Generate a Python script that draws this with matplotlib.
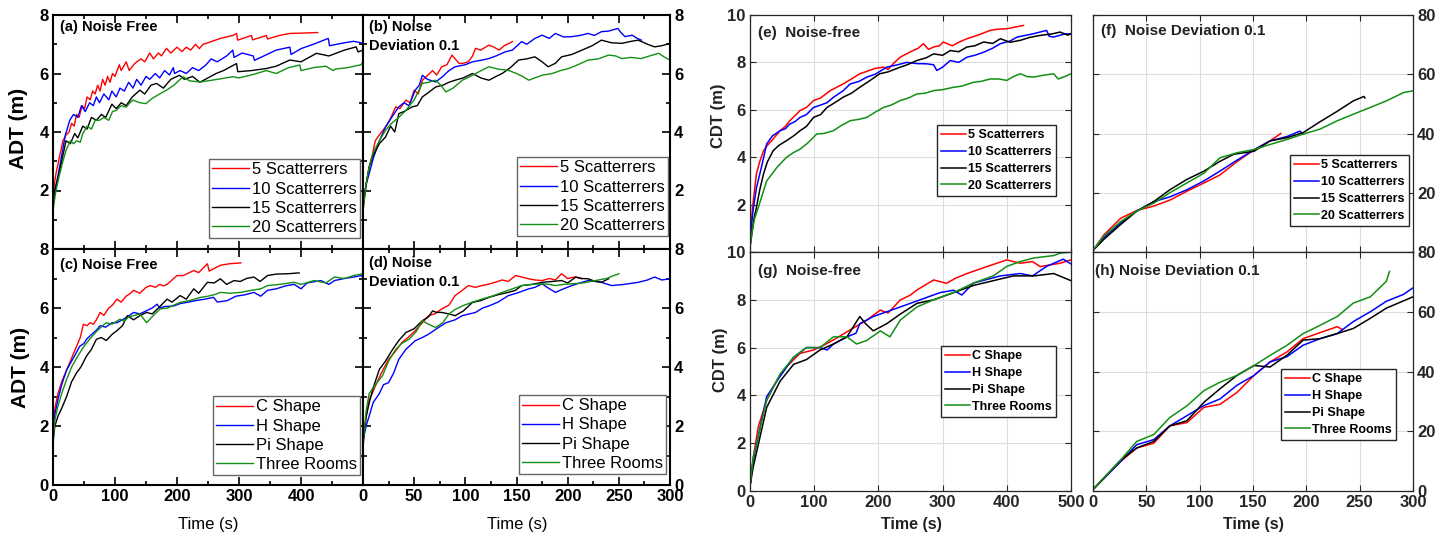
import numpy as np
import matplotlib.pyplot as plt
from matplotlib.ticker import MultipleLocator

plt.rcParams['font.family'] = ['Liberation Sans', 'DejaVu Sans']

# ---------------- Datos ----------------
# (a) ADT, sin ruido, numero de dispersores
a_t5 = [0, 2, 5, 8, 12, 16, 21, 26, 30, 34, 38, 42, 47, 51, 55, 60, 64, 68, 72, 76, 80, 84, 88, 92, 96, 100, 107, 110, 118, 123, 130, 135, 142, 148, 156, 162, 170, 175, 183, 190, 200, 208, 215, 222, 230, 236, 242, 250, 270, 290, 296, 298, 320, 322, 344, 346, 365, 382, 400, 427]
a_y5 = [1.3, 2.2, 2.6, 2.9, 3.3, 3.7, 3.9, 4.0, 4.3, 4.2, 4.6, 4.5, 4.9, 4.8, 5.2, 5.1, 5.4, 5.3, 5.6, 5.4, 5.8, 5.6, 5.9, 5.7, 6.0, 5.9, 6.3, 6.1, 6.4, 6.1, 6.3, 6.4, 6.5, 6.4, 6.7, 6.5, 6.7, 6.6, 6.86, 6.7, 6.9, 6.75, 6.9, 6.8, 7.0, 6.85, 7.0, 7.05, 7.2, 7.3, 7.37, 7.14, 7.3, 7.15, 7.3, 7.18, 7.3, 7.37, 7.38, 7.4]
a_t10 = [0, 3, 8, 14, 20, 27, 33, 40, 46, 52, 59, 65, 70, 75, 82, 90, 95, 102, 108, 115, 122, 129, 135, 142, 150, 156, 165, 172, 180, 188, 194, 196, 205, 215, 225, 235, 247, 255, 265, 280, 290, 292, 305, 323, 325, 345, 360, 382, 384, 400, 420, 444, 446, 470, 485, 497, 500]
a_y10 = [1.5, 2.0, 2.5, 3.2, 3.9, 4.4, 4.6, 4.5, 4.9, 4.7, 5.0, 4.9, 5.2, 5.0, 5.3, 5.1, 5.4, 5.2, 5.5, 5.4, 5.7, 5.5, 5.8, 5.6, 5.9, 5.8, 6.0, 5.85, 6.1, 5.95, 6.2, 6.0, 6.1, 6.0, 6.2, 6.1, 6.3, 6.5, 6.4, 6.6, 6.8, 6.55, 6.7, 6.6, 6.45, 6.65, 6.8, 6.9, 6.65, 6.85, 7.0, 7.2, 6.95, 7.05, 7.1, 7.05, 6.97]
a_t15 = [0, 4, 10, 16, 21, 28, 35, 40, 48, 55, 62, 70, 78, 85, 95, 102, 110, 118, 128, 140, 148, 158, 167, 178, 190, 204, 212, 225, 237, 250, 263, 275, 296, 298, 320, 344, 360, 382, 400, 425, 445, 470, 489, 492, 500]
a_y15 = [1.5, 2.1, 2.6, 3.2, 3.7, 3.6, 3.95, 3.8, 4.2, 4.1, 4.5, 4.4, 4.6, 4.5, 4.95, 4.8, 5.0, 4.9, 5.2, 5.43, 5.3, 5.6, 5.66, 5.5, 5.8, 5.94, 5.8, 5.9, 5.7, 5.85, 6.0, 6.1, 6.34, 6.06, 6.1, 6.17, 6.25, 6.46, 6.4, 6.69, 6.6, 6.8, 6.91, 6.74, 6.8]
a_t20 = [0, 4, 10, 16, 21, 28, 33, 38, 44, 48, 55, 62, 68, 75, 82, 90, 96, 102, 110, 118, 124, 129, 140, 150, 160, 172, 183, 195, 205, 210, 220, 237, 250, 265, 290, 300, 320, 344, 360, 380, 398, 400, 420, 440, 452, 455, 475, 497, 500]
a_y20 = [1.3, 1.9, 2.5, 3.0, 3.37, 3.7, 3.6, 3.7, 3.65, 3.94, 4.2, 4.1, 4.4, 4.4, 4.5, 4.4, 4.7, 4.74, 4.9, 4.85, 5.0, 5.09, 5.0, 4.97, 5.15, 5.3, 5.43, 5.6, 5.8, 5.89, 5.75, 5.71, 5.75, 5.8, 5.89, 5.85, 5.95, 6.1, 6.0, 6.2, 6.29, 6.1, 6.2, 6.25, 6.1, 6.15, 6.2, 6.3, 6.4]

# (b) ADT, ruido 0.1, numero de dispersores
b_t5 = [0, 3, 6, 9, 12, 16, 22, 26, 32, 36, 42, 46, 50, 54, 58, 62, 68, 72, 77, 82, 87, 90, 94, 98, 103, 107, 110, 115, 123, 128, 133, 138, 146]
b_y5 = [1.3, 2.2, 2.8, 3.2, 3.7, 3.9, 4.17, 4.4, 4.86, 4.8, 5.09, 5.0, 5.43, 5.3, 5.77, 5.9, 6.1, 5.95, 6.23, 6.3, 6.63, 6.5, 6.34, 6.35, 6.4, 6.6, 6.86, 6.8, 6.97, 6.9, 6.8, 6.95, 7.09]
b_t10 = [0, 3, 6, 10, 16, 22, 28, 35, 40, 45, 51, 55, 58, 63, 71, 78, 84, 90, 100, 107, 115, 123, 130, 139, 146, 155, 160, 168, 175, 182, 188, 196, 204, 212, 220, 226, 233, 240, 249, 252, 256, 263, 268, 272]
b_y10 = [1.5, 2.2, 2.57, 3.1, 3.7, 4.17, 4.5, 4.86, 5.0, 4.9, 5.43, 5.6, 5.94, 5.8, 5.71, 5.9, 6.1, 6.23, 6.3, 6.4, 6.45, 6.51, 6.6, 6.74, 6.8, 7.09, 7.0, 7.2, 7.31, 7.2, 7.37, 7.25, 7.26, 7.3, 7.37, 7.3, 7.43, 7.45, 7.54, 7.4, 7.26, 7.31, 7.2, 7.14]
b_t15 = [0, 3, 6, 10, 16, 22, 27, 31, 35, 40, 48, 53, 58, 64, 71, 78, 84, 90, 98, 107, 115, 123, 130, 136, 144, 152, 160, 168, 175, 181, 188, 194, 204, 214, 224, 233, 243, 253, 262, 269, 278, 285, 292, 300]
b_y15 = [1.5, 2.2, 2.8, 3.2, 3.6, 3.83, 4.2, 4.0, 4.63, 4.7, 4.86, 4.9, 5.2, 5.35, 5.54, 5.6, 5.7, 5.77, 5.85, 6.0, 5.85, 5.77, 5.9, 6.0, 6.2, 6.46, 6.5, 6.57, 6.4, 6.23, 6.35, 6.57, 6.65, 6.8, 6.95, 7.14, 7.05, 7.03, 7.1, 7.14, 7.0, 6.91, 6.95, 7.03]
b_t20 = [0, 3, 6, 10, 16, 22, 28, 35, 42, 50, 58, 64, 71, 76, 81, 88, 97, 105, 116, 123, 132, 142, 150, 156, 162, 168, 175, 185, 193, 201, 210, 220, 230, 240, 247, 253, 262, 272, 280, 289, 295, 300]
b_y20 = [1.3, 2.2, 2.8, 3.3, 3.7, 4.06, 4.3, 4.5, 4.74, 5.1, 5.66, 5.7, 5.77, 5.6, 5.37, 5.5, 5.77, 5.9, 6.11, 6.23, 6.15, 6.11, 6.0, 5.9, 5.77, 5.85, 5.94, 6.0, 6.1, 6.17, 6.3, 6.46, 6.5, 6.63, 6.6, 6.51, 6.55, 6.51, 6.6, 6.69, 6.55, 6.46]

# (c) ADT, sin ruido, forma del recinto
c_tC = [0, 3, 8, 14, 22, 30, 38, 44, 49, 55, 60, 65, 70, 76, 82, 90, 96, 103, 110, 118, 125, 130, 140, 150, 157, 165, 172, 178, 184, 192, 200, 210, 220, 227, 235, 242, 249, 252, 259, 270, 285, 303]
c_yC = [1.4, 2.6, 3.1, 3.5, 3.9, 4.3, 4.7, 5.0, 5.45, 5.4, 5.5, 5.45, 5.6, 5.85, 5.75, 6.0, 6.1, 6.3, 6.2, 6.4, 6.5, 6.6, 6.5, 6.7, 6.76, 6.7, 6.8, 6.75, 6.8, 6.95, 7.1, 7.1, 7.2, 7.27, 7.2, 7.35, 7.5, 7.25, 7.33, 7.45, 7.5, 7.53]
c_tH = [0, 3, 8, 14, 22, 30, 38, 43, 50, 54, 62, 70, 76, 85, 95, 103, 112, 120, 130, 140, 150, 160, 168, 172, 180, 195, 205, 216, 230, 245, 259, 265, 281, 295, 310, 324, 335, 346, 360, 375, 389, 400, 410, 432, 445, 454, 470, 485, 497, 500]
c_yH = [1.5, 2.4, 2.9, 3.4, 3.9, 4.2, 4.5, 4.7, 4.8, 4.94, 5.1, 5.25, 5.4, 5.35, 5.5, 5.5, 5.6, 5.7, 5.85, 5.8, 5.9, 6.0, 6.13, 6.0, 6.05, 6.07, 6.15, 6.19, 6.25, 6.3, 6.36, 6.2, 6.25, 6.4, 6.45, 6.53, 6.4, 6.6, 6.65, 6.75, 6.8, 6.65, 6.85, 6.93, 6.8, 6.93, 7.0, 7.05, 7.1, 7.05]
c_tPi = [0, 3, 8, 14, 22, 30, 38, 45, 54, 62, 70, 78, 86, 95, 103, 112, 120, 130, 140, 151, 160, 170, 184, 192, 205, 215, 227, 235, 249, 260, 270, 280, 292, 302, 312, 324, 334, 346, 360, 378, 397]
c_yPi = [1.5, 2.0, 2.33, 2.6, 3.0, 3.5, 3.8, 4.0, 4.37, 4.6, 4.94, 5.0, 4.9, 5.1, 5.23, 5.4, 5.74, 5.6, 5.74, 5.85, 5.8, 6.0, 6.3, 6.2, 6.42, 6.3, 6.65, 6.5, 6.87, 6.85, 6.99, 6.8, 6.93, 6.9, 7.0, 7.05, 6.9, 7.1, 7.15, 7.16, 7.19]
c_tTR = [0, 3, 8, 14, 22, 30, 40, 50, 59, 70, 80, 86, 95, 108, 115, 122, 130, 140, 151, 162, 173, 185, 195, 205, 220, 238, 250, 260, 270, 285, 303, 320, 335, 346, 365, 389, 400, 421, 440, 454, 470, 485, 497, 500]
c_yTR = [1.3, 2.2, 2.67, 3.1, 3.58, 4.0, 4.37, 4.7, 4.94, 5.2, 5.4, 5.5, 5.45, 5.62, 5.55, 5.7, 5.74, 5.8, 5.5, 5.75, 5.97, 6.0, 6.1, 6.19, 6.25, 6.36, 6.4, 6.45, 6.53, 6.5, 6.53, 6.6, 6.65, 6.76, 6.8, 6.87, 6.8, 6.93, 6.85, 7.05, 7.0, 7.1, 7.15, 7.16]

# (d) ADT, ruido 0.1, forma del recinto
d_tC = [0, 3, 6, 9, 12, 18, 25, 31, 38, 44, 51, 58, 64, 70, 77, 84, 90, 97, 103, 110, 116, 122, 129, 136, 142, 149, 155, 162, 168, 175, 182, 188, 194, 200, 207, 214]
d_yC = [1.3, 2.3, 2.9, 3.1, 3.35, 3.8, 4.26, 4.5, 4.83, 5.0, 5.23, 5.5, 5.74, 5.8, 5.97, 6.1, 6.42, 6.6, 6.76, 6.7, 6.76, 6.8, 6.87, 6.95, 6.9, 7.1, 7.05, 6.99, 6.95, 6.93, 7.0, 6.95, 7.16, 7.0, 7.05, 6.99]
d_tH = [0, 3, 6, 10, 16, 20, 25, 30, 35, 42, 51, 58, 64, 72, 81, 90, 97, 104, 110, 117, 123, 132, 142, 150, 162, 168, 175, 180, 188, 196, 204, 212, 220, 230, 243, 255, 269, 278, 285, 292, 300]
d_yH = [1.5, 2.0, 2.33, 2.8, 3.1, 3.4, 3.47, 3.8, 4.26, 4.6, 4.89, 5.0, 5.11, 5.3, 5.5, 5.6, 5.74, 5.8, 5.85, 6.0, 6.07, 6.2, 6.42, 6.5, 6.65, 6.7, 6.82, 6.7, 6.53, 6.65, 6.76, 6.85, 6.93, 6.9, 6.76, 6.8, 6.87, 6.95, 7.05, 6.95, 6.99]
d_tPi = [0, 3, 6, 10, 16, 22, 29, 35, 42, 50, 58, 64, 68, 72, 77, 84, 90, 98, 107, 115, 123, 132, 142, 149, 155, 165, 175, 185, 194, 200, 208, 214, 220, 227, 233, 240]
d_yPi = [1.5, 2.3, 2.78, 3.3, 3.92, 4.2, 4.6, 4.9, 5.17, 5.3, 5.57, 5.7, 5.9, 5.85, 5.85, 5.8, 5.74, 5.9, 6.19, 6.25, 6.36, 6.45, 6.53, 6.6, 6.76, 6.8, 6.87, 6.9, 6.93, 6.85, 7.05, 7.0, 6.99, 6.9, 6.87, 6.99]
d_tTR = [0, 3, 6, 12, 19, 25, 32, 38, 45, 52, 58, 64, 71, 78, 84, 90, 97, 107, 116, 126, 136, 146, 155, 165, 175, 182, 188, 196, 204, 215, 227, 238, 245, 250]
d_yTR = [1.3, 2.5, 3.1, 3.4, 3.7, 4.2, 4.6, 4.8, 4.94, 5.2, 5.57, 5.45, 5.34, 5.5, 5.8, 5.95, 6.07, 6.2, 6.3, 6.4, 6.53, 6.65, 6.76, 6.8, 6.82, 6.8, 6.76, 6.8, 6.82, 6.85, 6.93, 7.0, 7.1, 7.16]

# (e) CDT, sin ruido, numero de dispersores
e_t5 = [0, 2, 4, 7, 10, 15, 21, 27, 34, 40, 47, 55, 62, 70, 78, 88, 99, 110, 125, 135, 145, 158, 171, 185, 195, 208, 215, 225, 234, 250, 262, 270, 278, 286, 295, 301, 315, 325, 338, 355, 374, 385, 400, 426]
e_y5 = [0.2, 1.2, 1.9, 2.6, 3.29, 3.8, 4.27, 4.5, 4.7, 4.9, 5.12, 5.3, 5.54, 5.75, 5.97, 6.1, 6.39, 6.5, 6.81, 6.95, 7.09, 7.3, 7.52, 7.65, 7.75, 7.8, 7.7, 8.0, 8.22, 8.45, 8.6, 8.79, 8.55, 8.65, 8.7, 8.86, 8.7, 8.85, 9.0, 9.15, 9.35, 9.4, 9.42, 9.56]
e_t10 = [0, 2, 5, 10, 18, 26, 35, 47, 55, 62, 70, 78, 88, 99, 110, 120, 130, 145, 156, 170, 182, 195, 213, 230, 244, 260, 275, 286, 291, 300, 312, 325, 338, 350, 364, 378, 390, 405, 416, 440, 462, 466, 473, 490, 500]
e_y10 = [0.2, 1.1, 1.8, 2.7, 3.6, 4.56, 4.9, 5.12, 5.2, 5.4, 5.5, 5.68, 5.8, 6.1, 6.2, 6.3, 6.53, 6.8, 7.09, 7.2, 7.38, 7.5, 7.8, 7.9, 8.0, 7.95, 7.94, 7.9, 7.66, 7.8, 8.08, 8.0, 8.22, 8.3, 8.43, 8.6, 8.79, 8.9, 9.07, 9.2, 9.35, 9.1, 9.07, 9.2, 9.21]
e_t15 = [0, 3, 6, 10, 15, 21, 27, 36, 45, 57, 68, 78, 88, 99, 110, 120, 132, 145, 158, 171, 185, 202, 215, 234, 245, 260, 275, 286, 300, 312, 325, 338, 350, 364, 378, 390, 405, 421, 435, 452, 470, 483, 495, 500]
e_y15 = [0.2, 0.8, 1.4, 1.88, 2.6, 3.29, 3.8, 4.27, 4.5, 4.7, 4.9, 5.12, 5.3, 5.68, 5.8, 6.1, 6.3, 6.53, 6.7, 6.95, 7.2, 7.52, 7.6, 7.8, 7.9, 8.08, 8.2, 8.36, 8.3, 8.5, 8.45, 8.65, 8.7, 8.86, 8.8, 9.0, 8.85, 8.93, 9.05, 9.14, 9.2, 9.28, 9.15, 9.21]
e_t20 = [0, 3, 7, 13, 26, 42, 57, 68, 78, 90, 104, 115, 130, 140, 156, 170, 182, 195, 208, 220, 234, 247, 260, 273, 286, 300, 317, 330, 348, 360, 374, 388, 400, 410, 421, 432, 442, 455, 473, 480, 490, 500]
e_y20 = [0.2, 0.8, 1.4, 1.88, 3.0, 3.57, 4.0, 4.2, 4.34, 4.6, 4.98, 5.0, 5.12, 5.3, 5.54, 5.6, 5.68, 5.9, 6.1, 6.2, 6.39, 6.5, 6.67, 6.7, 6.81, 6.85, 6.95, 7.0, 7.16, 7.2, 7.3, 7.3, 7.24, 7.4, 7.52, 7.4, 7.38, 7.45, 7.52, 7.3, 7.4, 7.52]

# (f) CDT, ruido 0.1, numero de dispersores
f_t5 = [0, 10, 26, 41, 57, 72, 88, 104, 119, 135, 151, 166, 176]
f_y5 = [0.5, 5.7, 11.4, 14.0, 15.5, 17.5, 20.5, 23.3, 26.0, 30.5, 34.5, 37.5, 40.0]
f_t10 = [0, 10, 26, 41, 57, 72, 88, 104, 119, 135, 151, 166, 182, 194, 197]
f_y10 = [0.5, 4.8, 9.8, 13.8, 17.0, 18.6, 21.0, 24.0, 27.3, 31.0, 34.5, 37.5, 39.0, 40.8, 39.8]
f_t15 = [0, 10, 26, 41, 57, 72, 88, 104, 119, 132, 151, 166, 182, 197, 213, 229, 244, 254, 255]
f_y15 = [0.5, 4.2, 9.3, 13.8, 17.0, 21.0, 24.5, 27.3, 30.6, 33.0, 34.0, 37.5, 38.6, 40.3, 44.0, 47.5, 51.0, 52.5, 52.0]
f_t20 = [0, 10, 26, 41, 57, 72, 88, 104, 119, 135, 151, 166, 182, 197, 213, 229, 244, 260, 275, 291, 300]
f_y20 = [0.5, 5.3, 10.3, 13.8, 16.5, 20.0, 23.3, 26.6, 31.8, 33.5, 34.6, 36.3, 38.0, 39.8, 41.5, 44.3, 46.5, 48.8, 51.0, 53.8, 54.4]

# (g) CDT, sin ruido, forma del recinto
g_tC = [0, 5, 13, 26, 42, 57, 78, 99, 115, 130, 156, 182, 203, 215, 234, 250, 260, 286, 306, 320, 338, 369, 400, 421, 440, 452, 483, 500]
g_yC = [0.2, 1.4, 2.7, 3.8, 4.64, 5.2, 5.76, 5.9, 6.1, 6.32, 6.74, 7.15, 7.57, 7.45, 7.99, 8.2, 8.41, 8.83, 8.69, 8.9, 9.1, 9.39, 9.67, 9.53, 9.6, 9.39, 9.53, 9.67]
g_tH = [0, 5, 26, 47, 68, 88, 109, 120, 130, 151, 165, 171, 192, 213, 234, 265, 296, 317, 330, 348, 390, 421, 440, 462, 488, 500]
g_yH = [0.2, 1.3, 3.95, 4.8, 5.6, 6.0, 6.0, 5.9, 6.15, 6.45, 6.6, 7.0, 7.3, 7.5, 7.7, 8.0, 8.3, 8.4, 8.2, 8.7, 9.0, 9.1, 9.0, 9.4, 9.7, 9.5]
g_tPi = [0, 5, 26, 47, 68, 88, 109, 130, 151, 171, 180, 192, 213, 234, 260, 286, 317, 348, 379, 410, 442, 473, 500]
g_yPi = [0.2, 1.0, 3.5, 4.6, 5.3, 5.5, 5.9, 6.15, 6.45, 7.3, 7.0, 6.7, 7.0, 7.4, 7.85, 8.0, 8.3, 8.6, 8.8, 9.0, 9.0, 9.1, 8.8]
g_tTR = [0, 5, 26, 47, 68, 88, 109, 130, 151, 166, 182, 203, 218, 234, 260, 286, 317, 348, 379, 400, 421, 442, 473, 483, 500]
g_yTR = [0.2, 1.4, 3.8, 4.9, 5.6, 6.0, 6.0, 6.45, 6.45, 6.15, 6.3, 6.7, 6.45, 7.15, 7.7, 8.0, 8.3, 8.7, 9.0, 9.4, 9.6, 9.75, 9.85, 9.95, 10.0]

# (h) CDT, ruido 0.1, forma del recinto
h_tC = [0, 26, 41, 57, 72, 88, 104, 119, 135, 151, 166, 182, 197, 216, 229, 234]
h_yC = [0.5, 9.9, 14.4, 16.0, 21.8, 22.9, 28.0, 29.0, 33.0, 38.7, 43.2, 46.6, 51.0, 53.4, 55.0, 54.0]
h_tH = [0, 26, 41, 57, 72, 88, 104, 119, 135, 151, 166, 182, 197, 213, 229, 244, 260, 275, 291, 300]
h_yH = [0.5, 9.9, 15.5, 17.2, 21.8, 25.2, 28.6, 30.8, 35.4, 38.7, 43.2, 45.0, 48.8, 51.0, 52.7, 56.7, 60.0, 63.5, 65.8, 68.0]
h_tPi = [0, 26, 41, 57, 72, 88, 104, 119, 135, 151, 166, 182, 197, 213, 229, 244, 260, 275, 300]
h_yPi = [0.5, 10.4, 14.4, 16.6, 21.8, 23.5, 29.7, 34.2, 38.7, 42.0, 41.5, 45.5, 50.5, 51.0, 52.7, 54.4, 57.8, 61.2, 65.0]
h_tTR = [0, 26, 41, 57, 72, 88, 104, 119, 135, 151, 166, 182, 197, 207, 229, 244, 260, 275, 278]
h_yTR = [0.5, 10.4, 16.6, 18.9, 24.6, 28.5, 33.6, 36.4, 38.7, 42.0, 45.4, 48.8, 52.7, 54.4, 58.4, 62.9, 65.0, 70.2, 73.5]

lab_disp = ['5 Scatterrers', '10 Scatterrers', '15 Scatterrers', '20 Scatterrers']
lab_forma = ['C Shape', 'H Shape', 'Pi Shape', 'Three Rooms']
colores = ['#ff0000', '#0000ff', '#000000', '#138f13']

# ---------------- Figura ----------------
W, H = 1452, 538
fig = plt.figure(figsize=(W / 100, H / 100), dpi=100)


def caja(x0, y0, x1, y1):
    return fig.add_axes([x0 / W, 1 - y1 / H, (x1 - x0) / W, (y1 - y0) / H])


def texto(x, y, s, **kw):
    fig.text(x / W, 1 - y / H, s, **kw)


def leyenda(ax, x, y, labels, matlab=False):
    if matlab:
        leg = ax.legend(labels, loc='upper left', bbox_to_anchor=(x / W, 1 - y / H),
                        bbox_transform=fig.transFigure, fancybox=False, borderaxespad=0,
                        prop={'size': 9, 'weight': 'bold'}, handlelength=2.0,
                        handletextpad=0.1, labelspacing=0.38, borderpad=0.35)
        leg.get_frame().set_edgecolor('#262626')
    else:
        leg = ax.legend(labels, loc='upper left', bbox_to_anchor=(x / W, 1 - y / H),
                        bbox_transform=fig.transFigure, fancybox=False, borderaxespad=0,
                        fontsize=12, handlelength=2.2, handletextpad=0.15,
                        labelspacing=0.25, borderpad=0.2)
        leg.get_frame().set_edgecolor('#666666')
    leg.get_frame().set_linewidth(1.0)
    leg.get_frame().set_alpha(1)


def origin(ax, xmax, xstep, xlabels, ylabels, derecha=False):
    ax.set_xlim(0, xmax)
    ax.set_ylim(0, 8)
    ax.set_xticks(np.arange(0, xmax + 1, xstep))
    ax.set_xticklabels(xlabels, fontsize=12, fontweight='bold')
    ax.set_yticks([0, 2, 4, 6, 8])
    ax.set_yticklabels(ylabels, fontsize=12, fontweight='bold')
    ax.xaxis.set_minor_locator(MultipleLocator(xstep / 2))
    ax.yaxis.set_minor_locator(MultipleLocator(1))
    ax.tick_params(which='both', direction='in', top=True, right=True, width=1.2, pad=3)
    ax.tick_params(which='major', length=6)
    ax.tick_params(which='minor', length=3)
    if derecha:
        ax.tick_params(labelleft=False, labelright=True)
    for s in ax.spines.values():
        s.set_linewidth(1.5)


def matlab(ax, xmax, xstep, ymax, ystep, xlabels, ylabels, derecha=False):
    ax.set_xlim(0, xmax)
    ax.set_ylim(0, ymax)
    ax.set_xticks(np.arange(0, xmax + 1, xstep))
    ax.set_xticklabels(xlabels, fontsize=12, fontweight='bold', color='#262626')
    ax.set_yticks(np.arange(0, ymax + 1, ystep))
    ax.set_yticklabels(ylabels, fontsize=12, fontweight='bold', color='#262626')
    ax.grid(True, color='#dddddd', linewidth=0.8)
    ax.set_axisbelow(True)
    ax.tick_params(direction='in', length=4, width=0.8, top=True, right=True, pad=3, color='#262626')
    if derecha:
        ax.tick_params(labelleft=False, labelright=True)
    for s in ax.spines.values():
        s.set_linewidth(0.9)
        s.set_color('#262626')


def curvas(ax, series, lw):
    for (t, y), c in zip(series, colores):
        ax.plot(t, y, color=c, linewidth=lw)


# panel (a)
ax = caja(53, 15, 363, 249)
curvas(ax, [(a_t5, a_y5), (a_t10, a_y10), (a_t15, a_y15), (a_t20, a_y20)], 1.0)
origin(ax, 500, 100, [''] * 6, ['', '2', '4', '6', '8'])
leyenda(ax, 209, 159, lab_disp)
texto(60, 27, '(a) Noise Free', fontsize=10.5, fontweight='bold', va='center')

# panel (b)
ax = caja(363, 15, 670, 249)
curvas(ax, [(b_t5, b_y5), (b_t10, b_y10), (b_t15, b_y15), (b_t20, b_y20)], 1.0)
origin(ax, 300, 50, [''] * 7, ['', '2', '4', '6', '8'], derecha=True)
leyenda(ax, 517, 157, lab_disp)
texto(369, 27, '(b) Noise', fontsize=10.5, fontweight='bold', va='center')
texto(369, 46, 'Deviation 0.1', fontsize=10.5, fontweight='bold', va='center')

# panel (c)
ax = caja(53, 249, 363, 485)
curvas(ax, [(c_tC, c_yC), (c_tH, c_yH), (c_tPi, c_yPi), (c_tTR, c_yTR)], 1.0)
origin(ax, 500, 100, ['0', '100', '200', '300', '400', ''], ['0', '2', '4', '6', '8'])
leyenda(ax, 213, 396, lab_forma)
texto(60, 265, '(c) Noise Free', fontsize=10.5, fontweight='bold', va='center')

# panel (d)
ax = caja(363, 249, 670, 485)
curvas(ax, [(d_tC, d_yC), (d_tH, d_yH), (d_tPi, d_yPi), (d_tTR, d_yTR)], 1.0)
origin(ax, 300, 50, ['0', '50', '100', '150', '200', '250', '300'], ['0', '2', '4', '6', '8'], derecha=True)
leyenda(ax, 519, 395, lab_forma)
texto(369, 263, '(d) Noise', fontsize=10.5, fontweight='bold', va='center')
texto(369, 282, 'Deviation 0.1', fontsize=10.5, fontweight='bold', va='center')

texto(18, 128, 'ADT (m)', fontsize=15, fontweight='bold', rotation=90, ha='center', va='center')
texto(20, 367, 'ADT (m)', fontsize=15, fontweight='bold', rotation=90, ha='center', va='center')
texto(208, 525, 'Time (s)', fontsize=12, ha='center', va='center')
texto(517, 525, 'Time (s)', fontsize=12, ha='center', va='center')

# panel (e)
ax = caja(750, 15, 1071, 252)
curvas(ax, [(e_t5, e_y5), (e_t10, e_y10), (e_t15, e_y15), (e_t20, e_y20)], 1.1)
matlab(ax, 500, 100, 10, 2, [''] * 6, ['', '2', '4', '6', '8', '10'])
leyenda(ax, 937, 125, lab_disp, matlab=True)
texto(758, 33, '(e)  Noise-free', fontsize=11, fontweight='bold', va='center', color='#222222')

# panel (f)
ax = caja(1093, 15, 1413, 252)
curvas(ax, [(f_t5, f_y5), (f_t10, f_y10), (f_t15, f_y15), (f_t20, f_y20)], 1.1)
matlab(ax, 300, 50, 80, 20, [''] * 7, ['', '20', '40', '60', '80'], derecha=True)
leyenda(ax, 1290, 155, lab_disp, matlab=True)
texto(1101, 31, '(f)  Noise Deviation 0.1', fontsize=11, fontweight='bold', va='center', color='#222222')

# panel (g)
ax = caja(750, 252, 1071, 491)
curvas(ax, [(g_tC, g_yC), (g_tH, g_yH), (g_tPi, g_yPi), (g_tTR, g_yTR)], 1.1)
matlab(ax, 500, 100, 10, 2, ['0', '100', '200', '300', '400', '500'], ['0', '2', '4', '6', '8', '10'])
leyenda(ax, 941, 346, lab_forma, matlab=True)
texto(758, 271, '(g)  Noise-free', fontsize=11, fontweight='bold', va='center', color='#222222')

# panel (h)
ax = caja(1093, 252, 1413, 491)
curvas(ax, [(h_tC, h_yC), (h_tH, h_yH), (h_tPi, h_yPi), (h_tTR, h_yTR)], 1.1)
matlab(ax, 300, 50, 80, 20, ['0', '50', '100', '150', '200', '250', '300'], ['0', '20', '40', '60', '80'], derecha=True)
leyenda(ax, 1281, 369, lab_forma, matlab=True)
texto(1095, 271, '(h) Noise Deviation 0.1', fontsize=11, fontweight='bold', va='center', color='#222222')

texto(718, 116, 'CDT (m)', fontsize=12, fontweight='bold', rotation=90, ha='center', va='center', color='#222222')
texto(720, 360, 'CDT (m)', fontsize=12, fontweight='bold', rotation=90, ha='center', va='center', color='#222222')
texto(911, 525, 'Time (s)', fontsize=11.5, fontweight='bold', ha='center', va='center', color='#222222')
texto(1253, 525, 'Time (s)', fontsize=11.5, fontweight='bold', ha='center', va='center', color='#222222')

fig.savefig('out.png', dpi=100)
